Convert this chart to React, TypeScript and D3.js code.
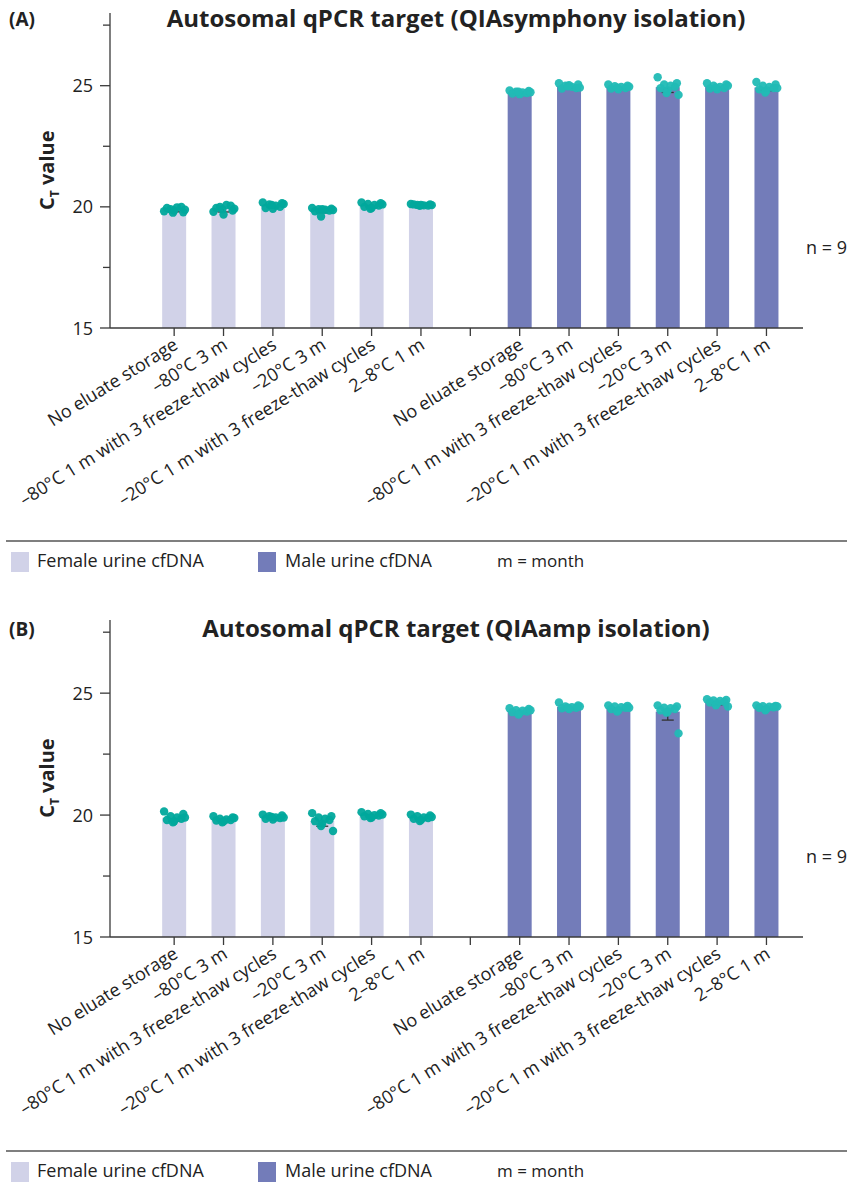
import * as d3 from 'd3'

const conditions = [
  'No eluate storage',
  '–80°C 3 m',
  '–80°C 1 m with 3 freeze-thaw cycles',
  '–20°C 3 m',
  '–20°C 1 m with 3 freeze-thaw cycles',
  '2–8°C 1 m',
]

const majorTicks = [15, 20, 25]
const minorTicks = [17.5, 22.5, 27.5]

// CT values per condition, 9 replicates each
const femaleA = [
  [19.82, 19.78, 19.9, 19.98, 20.0, 19.95, 19.85, 19.76, 19.88],
  [19.8, 19.85, 20.0, 20.08, 20.05, 19.95, 19.68, 19.9, 19.92],
  [20.18, 20.15, 20.1, 20.05, 20.0, 19.95, 19.92, 20.08, 20.12],
  [19.95, 19.92, 19.9, 19.88, 19.85, 19.82, 19.9, 19.6, 19.87],
  [20.18, 20.15, 20.12, 20.08, 20.05, 20.0, 19.95, 19.92, 20.1],
  [20.12, 20.1, 20.08, 20.06, 20.05, 20.1, 20.08, 20.04, 20.07],
]
const maleA = [
  [24.8, 24.78, 24.75, 24.72, 24.7, 24.68, 24.65, 24.75, 24.73],
  [25.1, 25.05, 25.0, 24.95, 24.9, 24.88, 25.02, 24.98, 24.92],
  [25.05, 25.0, 24.98, 24.95, 24.9, 24.88, 24.85, 24.92, 24.96],
  [25.35, 25.1, 25.05, 25.0, 24.95, 24.9, 24.8, 24.7, 24.62],
  [25.1, 25.05, 25.0, 24.95, 24.9, 24.88, 24.85, 24.92, 25.0],
  [25.15, 25.05, 25.0, 24.95, 24.9, 24.85, 24.8, 24.72, 24.9],
]
const femaleB = [
  [20.15, 20.05, 19.95, 19.9, 19.85, 19.8, 19.75, 19.7, 19.9],
  [19.95, 19.9, 19.85, 19.82, 19.8, 19.78, 19.75, 19.7, 19.88],
  [20.02, 19.98, 19.95, 19.9, 19.88, 19.85, 19.82, 19.92, 19.9],
  [20.08, 19.95, 19.9, 19.85, 19.8, 19.75, 19.65, 19.55, 19.35],
  [20.12, 20.08, 20.05, 20.0, 19.98, 19.95, 19.9, 19.88, 20.02],
  [20.02, 19.98, 19.95, 19.9, 19.88, 19.85, 19.8, 19.76, 19.92],
]
const maleB = [
  [24.38, 24.35, 24.3, 24.28, 24.25, 24.22, 24.18, 24.12, 24.3],
  [24.62, 24.5, 24.45, 24.42, 24.4, 24.38, 24.35, 24.4, 24.45],
  [24.5, 24.48, 24.45, 24.42, 24.4, 24.35, 24.3, 24.25, 24.4],
  [24.5, 24.45, 24.4, 24.38, 24.35, 24.3, 24.25, 24.2, 23.35],
  [24.75, 24.72, 24.7, 24.68, 24.65, 24.62, 24.58, 24.5, 24.45],
  [24.5, 24.48, 24.46, 24.44, 24.42, 24.4, 24.35, 24.3, 24.45],
]

// horizontal spread of the replicate dots, as a fraction of bar width
const jitter = [-0.42, 0.38, -0.15, 0.12, 0.3, -0.3, 0.0, -0.05, 0.45]

const FEMALE = '#d1d2e8'
const MALE = '#737cb9'
const DOT_F = '#00a89c'
const DOT_M = '#21bab5'
const AXIS = '#3a3a3a'
const FONT = '"Open Sans", "Noto Sans", sans-serif'

interface PanelProps {
  tag: string
  title: string
  female: number[][]
  male: number[][]
  y0: number // pixel of CT = 15
  yTop: number // pixel of CT = 28
  titleY: number
  legendY: number
}

function Panel({ tag, title, female, male, y0, yTop, titleY, legendY }: PanelProps) {
  const x = d3.scaleLinear().domain([-1.3, 12.72]).range([110, 802])
  const y = d3.scaleLinear().domain([15, 28]).range([y0, yTop])
  const barW = 24

  const groups = [
    ...female.map((vals, i) => ({ vals, slot: i, fill: FEMALE, dot: DOT_F, label: conditions[i] })),
    ...male.map((vals, i) => ({ vals, slot: i + 7, fill: MALE, dot: DOT_M, label: conditions[i] })),
  ]
  const slots = d3.range(13)

  return (
    <g>
      <text x={9} y={titleY + 7} fontFamily={FONT} fontWeight={700} fontSize={19} fill="#222">{tag}</text>
      <text x={456} y={titleY + 8} textAnchor="middle" fontFamily={FONT} fontWeight={700} fontSize={24} fill="#222">{title}</text>

      {/* y label */}
      <text transform={`translate(54,${(y(20) + y(25)) / 2 + 24}) rotate(-90)`} textAnchor="middle"
        fontFamily={FONT} fontWeight={700} fontSize={20} fill="#222">
        C<tspan fontSize={12} dy={5}>T</tspan><tspan dy={-5}> value</tspan>
      </text>

      {groups.map((g, gi) => {
        const m = d3.mean(g.vals) as number
        const sd = d3.deviation(g.vals) as number
        const cx = x(g.slot)
        return (
          <g key={gi}>
            <rect x={cx - barW / 2} y={y(m)} width={barW} height={y(15) - y(m)} fill={g.fill} />
            <line x1={cx} x2={cx} y1={y(m)} y2={y(m - sd)} stroke="#333" strokeWidth={1.3} />
            <line x1={cx - 6} x2={cx + 6} y1={y(m - sd)} y2={y(m - sd)} stroke="#333" strokeWidth={1.3} />
            {g.vals.map((v, k) => (
              <circle key={k} cx={cx + jitter[k] * barW} cy={y(v)} r={4.2} fill={g.dot} opacity={0.95} />
            ))}
          </g>
        )
      })}

      {/* axes */}
      <line x1={110} x2={110} y1={yTop} y2={y0} stroke={AXIS} strokeWidth={1.3} />
      <line x1={110} x2={803} y1={y0} y2={y0} stroke={AXIS} strokeWidth={1.3} />
      {majorTicks.map(t => (
        <g key={t}>
          <line x1={100} x2={110} y1={y(t)} y2={y(t)} stroke={AXIS} strokeWidth={1.3} />
          <text x={93} y={y(t) + 6.5} textAnchor="end" fontFamily={FONT} fontSize={18} fill="#222">{t}</text>
        </g>
      ))}
      {minorTicks.map(t => (
        <line key={t} x1={103} x2={110} y1={y(t)} y2={y(t)} stroke={AXIS} strokeWidth={1.3} />
      ))}
      {slots.map(s => (
        <line key={s} x1={x(s)} x2={x(s)} y1={y0} y2={y0 + 8} stroke={AXIS} strokeWidth={1.3} />
      ))}
      {groups.map((g, gi) => (
        <text key={gi} transform={`translate(${x(g.slot) + 5},${y0 + 20}) rotate(-32)`} textAnchor="end"
          fontFamily={FONT} fontSize={18} fill="#222">{g.label}</text>
      ))}

      <text x={806} y={y(18.3) + 6} fontFamily={FONT} fontSize={18} fill="#222">n = 9</text>

      {/* legend */}
      <line x1={6} x2={847} y1={legendY} y2={legendY} stroke="#555" strokeWidth={1.5} />
      <rect x={11} y={legendY + 11} width={18} height={20} fill={FEMALE} />
      <text x={37} y={legendY + 26} fontFamily={FONT} fontSize={18} fill="#222">Female urine cfDNA</text>
      <rect x={258} y={legendY + 11} width={18} height={20} fill={MALE} />
      <text x={285} y={legendY + 26} fontFamily={FONT} fontSize={18} fill="#222">Male urine cfDNA</text>
      <text x={497} y={legendY + 26} fontFamily={FONT} fontSize={17} fill="#222">m = month</text>
    </g>
  )
}

export default function App() {
  return (
    <svg width={847} height={1182} style={{ position: 'absolute', left: 0, top: 0, background: '#fff' }}>
      <Panel tag="(A)" title="Autosomal qPCR target (QIAsymphony isolation)" female={femaleA} male={maleA}
        y0={328} yTop={13} titleY={19} legendY={541} />
      <Panel tag="(B)" title="Autosomal qPCR target (QIAamp isolation)" female={femaleB} male={maleB}
        y0={937} yTop={620} titleY={629} legendY={1151} />
    </svg>
  )
}
